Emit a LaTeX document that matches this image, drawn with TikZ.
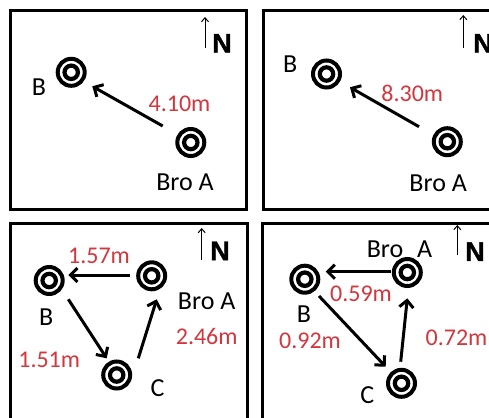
\documentclass[tikz,border=0pt]{standalone}
\usepackage{fontspec}
\setmainfont{Carlito}
\newfontfamily\nfont{Liberation Sans}[BoldFeatures={FakeBold=1.2}]
\usetikzlibrary{arrows.meta}
\definecolor{lblred}{RGB}{210,55,62}
\begin{document}
\begin{tikzpicture}[x=1pt,y=-1pt,
  frame/.style={draw=black, line width=3pt},
  target/.style={circle, draw=black, line width=4pt, minimum size=27pt, inner sep=0pt,
    path picture={\draw[line width=4.2pt] (path picture bounding box.center) circle (6.7pt);}},
  lbl/.style={font=\fontsize{26}{28}\selectfont, inner sep=0pt},
  dist/.style={font=\fontsize{24}{26}\selectfont, text=lblred, inner sep=0pt},
  nlbl/.style={font=\nfont\bfseries\fontsize{27}{29}\selectfont, inner sep=0pt},
  arr/.style={draw=black, line width=3pt, -{Straight Barb[length=7pt,width=14pt]}},
  narr/.style={draw=black, line width=1pt, -{Straight Barb[length=4pt,width=7pt]}}]
\useasboundingbox (0,0) rectangle (489,417);
\clip (0,0) rectangle (489,417);
\fill[white] (0,0) rectangle (489,417);

% frames
\draw[frame] (10,10.5) rectangle (246,209.5);
\draw[frame] (263,11) rectangle (499,209.5);
\draw[frame] (10,223) rectangle (247,422);
\draw[frame] (262.5,223) rectangle (499,422);

% ---------- panel 1
\node[target] (A1) at (190.8,142.5) {};
\node[target] (B1) at (71.2,72.3) {};
\node[lbl] (A1l) at (185,182.5) {Bro A};
\node[lbl] (B1l) at (39,87.5) {B};
\node[dist] (d1) at (179.5,104.3) {4.10m};
\draw[arr] ([shift={(-28.1,-16.5)}]A1.center) -- ([shift={(21.1,14)}]B1.center);
\coordinate (n1a) at (205,48);
\coordinate (n1b) at (205,17);
\draw[narr] (n1a) -- (n1b);
\node[nlbl] (N1) at (222,43.3) {N};

% ---------- panel 2
\node[target] (A2) at (447.3,141.7) {};
\node[target] (B2) at (326.5,74) {};
\node[lbl] (A2l) at (438.2,183.3) {Bro A};
\node[lbl] (B2l) at (290.3,63.7) {B};
\node[dist] (d2) at (412.3,93.3) {8.30m};
\draw[arr] ([shift={(-28.3,-15)}]A2.center) -- ([shift={(23.5,13.3)}]B2.center);
\coordinate (n2a) at (463.3,48);
\coordinate (n2b) at (463.3,15);
\draw[narr] (n2a) -- (n2b);
\node[nlbl] (N2) at (483,43.3) {N};

% ---------- panel 3
\node[target] (A3) at (151.7,275.8) {};
\node[target] (B3) at (49.2,280.5) {};
\node[target] (C3) at (116.7,375) {};
\node[lbl] (A3l) at (206.7,300.8) {Bro A};
\node[lbl] (B3l) at (46.3,317.5) {B};
\node[lbl] (C3l) at (157.5,388.3) {C};
\node[dist] (d3a) at (99,256) {1.57m};
\node[dist] (d3b) at (206.7,336.7) {2.46m};
\node[dist] (d3c) at (49.2,360) {1.51m};
\draw[arr] ([shift={(-21.7,-0.8)}]A3.center) -- ([shift={(19.1,-5.5)}]B3.center);
\draw[arr] ([shift={(19.1,18.8)}]B3.center) -- ([shift={(-10,-16.7)}]C3.center);
\draw[arr] ([shift={(21.6,-16.7)}]C3.center) -- ([shift={(5,23.5)}]A3.center);
\coordinate (n3a) at (201.7,260);
\coordinate (n3b) at (201.7,228);
\draw[narr] (n3a) -- (n3b);
\node[nlbl] (N3) at (220,250.8) {N};

% ---------- panel 4
\node[target] (A4) at (407.3,272.5) {};
\node[target] (B4) at (304.8,279.2) {};
\node[target] (C4) at (401.5,383.3) {};
\node[lbl] (A4l) at (399.5,249) {Bro\hspace{0.53em}A};
\node[lbl] (B4l) at (304,314) {B};
\node[lbl] (C4l) at (367.3,395) {C};
\node[dist] (d4a) at (361,294) {0.59m};
\node[dist] (d4b) at (310,341) {0.92m};
\node[dist] (d4c) at (456.5,337.5) {0.72m};
\draw[arr] ([shift={(-16.6,-0.8)}]A4.center) -- ([shift={(20.9,-7.5)}]B4.center);
\draw[arr] ([shift={(14.2,16.8)}]B4.center) -- ([shift={(-15.8,-16.6)}]C4.center);
\draw[arr] ([shift={(-0.8,-21.6)}]C4.center) -- ([shift={(0,25.8)}]A4.center);
\coordinate (n4a) at (457.3,255);
\coordinate (n4b) at (457.3,225);
\draw[narr] (n4a) -- (n4b);
\node[nlbl] (N4) at (475,251.7) {N};
\end{tikzpicture}
\end{document}
